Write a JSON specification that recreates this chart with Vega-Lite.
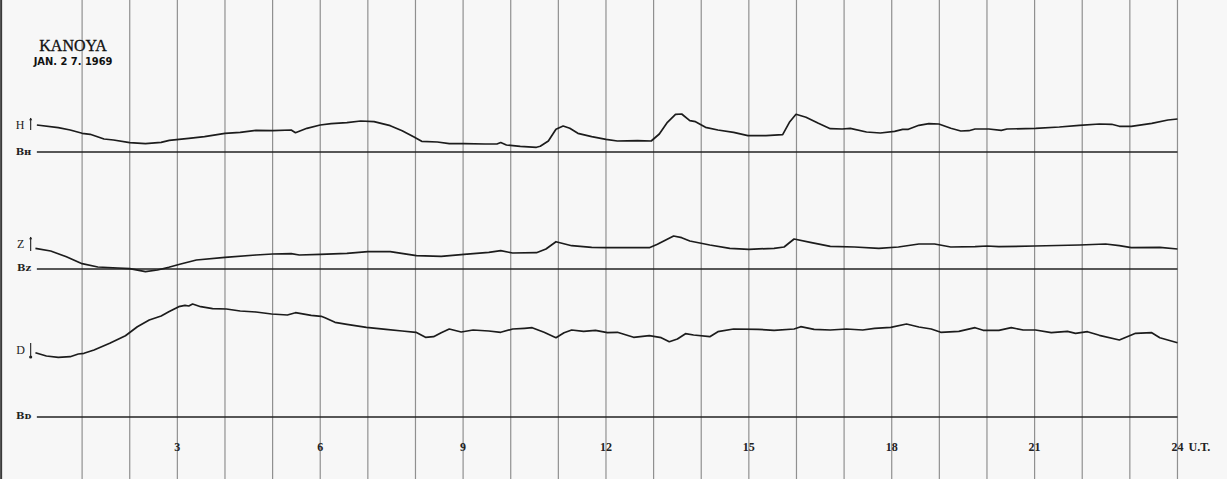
{
  "$schema": "https://vega.github.io/schema/vega-lite/v6.json",
  "width": 1227,
  "height": 479,
  "autosize": "none",
  "padding": 0,
  "background": "#f7f7f7",
  "config": {"view": {"stroke": null}},
  "datasets": {
    "hours": [
      {"hour": 1}, {"hour": 2}, {"hour": 3}, {"hour": 4}, {"hour": 5}, {"hour": 6},
      {"hour": 7}, {"hour": 8}, {"hour": 9}, {"hour": 10}, {"hour": 11}, {"hour": 12},
      {"hour": 13}, {"hour": 14}, {"hour": 15}, {"hour": 16}, {"hour": 17}, {"hour": 18},
      {"hour": 19}, {"hour": 20}, {"hour": 21}, {"hour": 22}, {"hour": 23}, {"hour": 24}
    ],
    "baselines": [
      {"name": "BH", "hour": 0.05, "hour2": 24, "pos": 327},
      {"name": "BZ", "hour": 0.05, "hour2": 24, "pos": 210},
      {"name": "BD", "hour": 0.05, "hour2": 24, "pos": 62}
    ],
    "traces": [
      {"trace": "H", "hour": 0.05, "pos": 354}, {"trace": "H", "hour": 0.5, "pos": 351.3},
      {"trace": "H", "hour": 0.75, "pos": 349}, {"trace": "H", "hour": 1.0, "pos": 345.7},
      {"trace": "H", "hour": 1.17, "pos": 344.7}, {"trace": "H", "hour": 1.46, "pos": 340},
      {"trace": "H", "hour": 1.66, "pos": 339}, {"trace": "H", "hour": 2.0, "pos": 336.3},
      {"trace": "H", "hour": 2.33, "pos": 335.3}, {"trace": "H", "hour": 2.66, "pos": 336.7},
      {"trace": "H", "hour": 2.83, "pos": 338.7}, {"trace": "H", "hour": 3.24, "pos": 340.7},
      {"trace": "H", "hour": 3.57, "pos": 342.3}, {"trace": "H", "hour": 4.0, "pos": 345.7},
      {"trace": "H", "hour": 4.32, "pos": 346.7}, {"trace": "H", "hour": 4.65, "pos": 348.7},
      {"trace": "H", "hour": 5.0, "pos": 348.3}, {"trace": "H", "hour": 5.39, "pos": 349},
      {"trace": "H", "hour": 5.48, "pos": 346.3}, {"trace": "H", "hour": 5.72, "pos": 350.7},
      {"trace": "H", "hour": 6.0, "pos": 354}, {"trace": "H", "hour": 6.23, "pos": 355.3},
      {"trace": "H", "hour": 6.56, "pos": 356.3}, {"trace": "H", "hour": 6.85, "pos": 358},
      {"trace": "H", "hour": 7.13, "pos": 357.3}, {"trace": "H", "hour": 7.47, "pos": 353.3},
      {"trace": "H", "hour": 7.72, "pos": 348.3}, {"trace": "H", "hour": 7.96, "pos": 342.3},
      {"trace": "H", "hour": 8.13, "pos": 337.7}, {"trace": "H", "hour": 8.46, "pos": 337},
      {"trace": "H", "hour": 8.71, "pos": 335.3}, {"trace": "H", "hour": 9.02, "pos": 335.3},
      {"trace": "H", "hour": 9.46, "pos": 335}, {"trace": "H", "hour": 9.71, "pos": 335},
      {"trace": "H", "hour": 9.79, "pos": 336.5}, {"trace": "H", "hour": 9.91, "pos": 334},
      {"trace": "H", "hour": 10.2, "pos": 332.7}, {"trace": "H", "hour": 10.54, "pos": 331.7},
      {"trace": "H", "hour": 10.62, "pos": 332.7}, {"trace": "H", "hour": 10.79, "pos": 338},
      {"trace": "H", "hour": 10.95, "pos": 349.7}, {"trace": "H", "hour": 11.1, "pos": 353},
      {"trace": "H", "hour": 11.24, "pos": 350.7}, {"trace": "H", "hour": 11.41, "pos": 345.7},
      {"trace": "H", "hour": 11.7, "pos": 342.3}, {"trace": "H", "hour": 12.0, "pos": 339.7},
      {"trace": "H", "hour": 12.24, "pos": 338}, {"trace": "H", "hour": 12.66, "pos": 338.3},
      {"trace": "H", "hour": 12.95, "pos": 338}, {"trace": "H", "hour": 13.12, "pos": 345},
      {"trace": "H", "hour": 13.29, "pos": 356.7}, {"trace": "H", "hour": 13.46, "pos": 364.7},
      {"trace": "H", "hour": 13.59, "pos": 365}, {"trace": "H", "hour": 13.76, "pos": 358.3},
      {"trace": "H", "hour": 13.88, "pos": 357.3}, {"trace": "H", "hour": 14.09, "pos": 351.7},
      {"trace": "H", "hour": 14.35, "pos": 349}, {"trace": "H", "hour": 14.68, "pos": 346.7},
      {"trace": "H", "hour": 14.98, "pos": 343.3}, {"trace": "H", "hour": 15.36, "pos": 343.3},
      {"trace": "H", "hour": 15.71, "pos": 344.3}, {"trace": "H", "hour": 15.86, "pos": 357.3},
      {"trace": "H", "hour": 15.99, "pos": 364.7}, {"trace": "H", "hour": 16.2, "pos": 361.7},
      {"trace": "H", "hour": 16.46, "pos": 355.7}, {"trace": "H", "hour": 16.71, "pos": 350.3},
      {"trace": "H", "hour": 16.96, "pos": 350}, {"trace": "H", "hour": 17.13, "pos": 350.7},
      {"trace": "H", "hour": 17.47, "pos": 347}, {"trace": "H", "hour": 17.76, "pos": 346},
      {"trace": "H", "hour": 18.06, "pos": 347.7}, {"trace": "H", "hour": 18.23, "pos": 349.7},
      {"trace": "H", "hour": 18.35, "pos": 349.7}, {"trace": "H", "hour": 18.57, "pos": 353.7},
      {"trace": "H", "hour": 18.78, "pos": 355.3}, {"trace": "H", "hour": 18.99, "pos": 355},
      {"trace": "H", "hour": 19.24, "pos": 350.7}, {"trace": "H", "hour": 19.45, "pos": 348},
      {"trace": "H", "hour": 19.62, "pos": 348.3}, {"trace": "H", "hour": 19.75, "pos": 350},
      {"trace": "H", "hour": 20.04, "pos": 350}, {"trace": "H", "hour": 20.3, "pos": 348.7},
      {"trace": "H", "hour": 20.42, "pos": 350}, {"trace": "H", "hour": 21.02, "pos": 350.7},
      {"trace": "H", "hour": 21.52, "pos": 352}, {"trace": "H", "hour": 21.94, "pos": 353.7},
      {"trace": "H", "hour": 22.36, "pos": 355}, {"trace": "H", "hour": 22.62, "pos": 354.7},
      {"trace": "H", "hour": 22.78, "pos": 352.7}, {"trace": "H", "hour": 23.03, "pos": 352.7},
      {"trace": "H", "hour": 23.46, "pos": 355.7}, {"trace": "H", "hour": 23.8, "pos": 359},
      {"trace": "H", "hour": 24.0, "pos": 360},

      {"trace": "Z", "hour": 0.02, "pos": 230.7}, {"trace": "Z", "hour": 0.34, "pos": 228},
      {"trace": "Z", "hour": 0.67, "pos": 222.3}, {"trace": "Z", "hour": 1.0, "pos": 215.3},
      {"trace": "Z", "hour": 1.33, "pos": 212}, {"trace": "Z", "hour": 1.75, "pos": 211},
      {"trace": "Z", "hour": 2.0, "pos": 210.3}, {"trace": "Z", "hour": 2.33, "pos": 207.3},
      {"trace": "Z", "hour": 2.58, "pos": 209}, {"trace": "Z", "hour": 2.82, "pos": 211.7},
      {"trace": "Z", "hour": 3.07, "pos": 215}, {"trace": "Z", "hour": 3.4, "pos": 219},
      {"trace": "Z", "hour": 4.0, "pos": 221.7}, {"trace": "Z", "hour": 4.65, "pos": 224},
      {"trace": "Z", "hour": 5.0, "pos": 225}, {"trace": "Z", "hour": 5.39, "pos": 225.3},
      {"trace": "Z", "hour": 5.56, "pos": 224}, {"trace": "Z", "hour": 6.0, "pos": 224.7},
      {"trace": "Z", "hour": 6.56, "pos": 225.7}, {"trace": "Z", "hour": 7.0, "pos": 227.3},
      {"trace": "Z", "hour": 7.47, "pos": 227.3}, {"trace": "Z", "hour": 8.02, "pos": 223.3},
      {"trace": "Z", "hour": 8.54, "pos": 222.7}, {"trace": "Z", "hour": 9.02, "pos": 224.7},
      {"trace": "Z", "hour": 9.54, "pos": 226.7}, {"trace": "Z", "hour": 9.79, "pos": 228.3},
      {"trace": "Z", "hour": 10.04, "pos": 226}, {"trace": "Z", "hour": 10.54, "pos": 226.3},
      {"trace": "Z", "hour": 10.74, "pos": 230}, {"trace": "Z", "hour": 10.95, "pos": 237.3},
      {"trace": "Z", "hour": 11.28, "pos": 233.3}, {"trace": "Z", "hour": 11.7, "pos": 231.7},
      {"trace": "Z", "hour": 12.0, "pos": 231.4}, {"trace": "Z", "hour": 12.32, "pos": 231.3},
      {"trace": "Z", "hour": 12.91, "pos": 231.3}, {"trace": "Z", "hour": 13.08, "pos": 234.7},
      {"trace": "Z", "hour": 13.42, "pos": 243}, {"trace": "Z", "hour": 13.59, "pos": 241.3},
      {"trace": "Z", "hour": 13.76, "pos": 238}, {"trace": "Z", "hour": 14.18, "pos": 234},
      {"trace": "Z", "hour": 14.6, "pos": 230.7}, {"trace": "Z", "hour": 15.0, "pos": 229.7},
      {"trace": "Z", "hour": 15.53, "pos": 230.7}, {"trace": "Z", "hour": 15.74, "pos": 232},
      {"trace": "Z", "hour": 15.95, "pos": 240}, {"trace": "Z", "hour": 16.29, "pos": 236.7},
      {"trace": "Z", "hour": 16.71, "pos": 232.7}, {"trace": "Z", "hour": 17.22, "pos": 232},
      {"trace": "Z", "hour": 17.73, "pos": 230.7}, {"trace": "Z", "hour": 18.14, "pos": 232},
      {"trace": "Z", "hour": 18.57, "pos": 235}, {"trace": "Z", "hour": 18.9, "pos": 235},
      {"trace": "Z", "hour": 19.24, "pos": 232}, {"trace": "Z", "hour": 19.75, "pos": 232.3},
      {"trace": "Z", "hour": 20.0, "pos": 233}, {"trace": "Z", "hour": 20.25, "pos": 232.3},
      {"trace": "Z", "hour": 21.0, "pos": 233}, {"trace": "Z", "hour": 21.94, "pos": 234},
      {"trace": "Z", "hour": 22.49, "pos": 235}, {"trace": "Z", "hour": 22.78, "pos": 233.3},
      {"trace": "Z", "hour": 23.03, "pos": 231.3}, {"trace": "Z", "hour": 23.63, "pos": 231.7},
      {"trace": "Z", "hour": 24.0, "pos": 230},

      {"trace": "D", "hour": 0.02, "pos": 126.3}, {"trace": "D", "hour": 0.25, "pos": 123},
      {"trace": "D", "hour": 0.5, "pos": 121.7}, {"trace": "D", "hour": 0.75, "pos": 122.3},
      {"trace": "D", "hour": 0.92, "pos": 125}, {"trace": "D", "hour": 1.04, "pos": 125.7},
      {"trace": "D", "hour": 1.25, "pos": 129}, {"trace": "D", "hour": 1.58, "pos": 135.7},
      {"trace": "D", "hour": 1.91, "pos": 143.3}, {"trace": "D", "hour": 2.16, "pos": 152.3},
      {"trace": "D", "hour": 2.41, "pos": 159}, {"trace": "D", "hour": 2.66, "pos": 163},
      {"trace": "D", "hour": 2.82, "pos": 167.3}, {"trace": "D", "hour": 3.03, "pos": 172.3},
      {"trace": "D", "hour": 3.16, "pos": 173.7}, {"trace": "D", "hour": 3.24, "pos": 173},
      {"trace": "D", "hour": 3.32, "pos": 175}, {"trace": "D", "hour": 3.49, "pos": 172.3},
      {"trace": "D", "hour": 3.74, "pos": 170.3}, {"trace": "D", "hour": 4.03, "pos": 170},
      {"trace": "D", "hour": 4.32, "pos": 168}, {"trace": "D", "hour": 4.65, "pos": 167},
      {"trace": "D", "hour": 4.98, "pos": 165}, {"trace": "D", "hour": 5.31, "pos": 164},
      {"trace": "D", "hour": 5.48, "pos": 166.3}, {"trace": "D", "hour": 5.81, "pos": 163.7},
      {"trace": "D", "hour": 6.02, "pos": 162.7}, {"trace": "D", "hour": 6.1, "pos": 161.3},
      {"trace": "D", "hour": 6.31, "pos": 156.7}, {"trace": "D", "hour": 6.56, "pos": 154.7},
      {"trace": "D", "hour": 6.97, "pos": 151.7}, {"trace": "D", "hour": 7.38, "pos": 149.7},
      {"trace": "D", "hour": 7.72, "pos": 148}, {"trace": "D", "hour": 8.01, "pos": 146.7},
      {"trace": "D", "hour": 8.21, "pos": 141.7}, {"trace": "D", "hour": 8.38, "pos": 142.3},
      {"trace": "D", "hour": 8.54, "pos": 146.3}, {"trace": "D", "hour": 8.71, "pos": 150},
      {"trace": "D", "hour": 8.96, "pos": 147}, {"trace": "D", "hour": 9.21, "pos": 149},
      {"trace": "D", "hour": 9.54, "pos": 148}, {"trace": "D", "hour": 9.79, "pos": 146.7},
      {"trace": "D", "hour": 10.04, "pos": 150}, {"trace": "D", "hour": 10.29, "pos": 150.7},
      {"trace": "D", "hour": 10.45, "pos": 151.3}, {"trace": "D", "hour": 10.7, "pos": 146.7},
      {"trace": "D", "hour": 10.95, "pos": 141.3}, {"trace": "D", "hour": 11.12, "pos": 146.3},
      {"trace": "D", "hour": 11.28, "pos": 149}, {"trace": "D", "hour": 11.53, "pos": 147.7},
      {"trace": "D", "hour": 11.78, "pos": 148.7}, {"trace": "D", "hour": 12.03, "pos": 146.3},
      {"trace": "D", "hour": 12.24, "pos": 146.7}, {"trace": "D", "hour": 12.58, "pos": 141.7},
      {"trace": "D", "hour": 12.91, "pos": 143.3}, {"trace": "D", "hour": 13.16, "pos": 141.3},
      {"trace": "D", "hour": 13.33, "pos": 137.3}, {"trace": "D", "hour": 13.5, "pos": 140},
      {"trace": "D", "hour": 13.67, "pos": 145.3}, {"trace": "D", "hour": 13.84, "pos": 144},
      {"trace": "D", "hour": 14.18, "pos": 142.3}, {"trace": "D", "hour": 14.35, "pos": 147.3},
      {"trace": "D", "hour": 14.68, "pos": 150}, {"trace": "D", "hour": 15.19, "pos": 149.7},
      {"trace": "D", "hour": 15.53, "pos": 148.7}, {"trace": "D", "hour": 15.95, "pos": 150},
      {"trace": "D", "hour": 16.09, "pos": 152.3}, {"trace": "D", "hour": 16.37, "pos": 149.7},
      {"trace": "D", "hour": 16.71, "pos": 149}, {"trace": "D", "hour": 17.05, "pos": 150},
      {"trace": "D", "hour": 17.39, "pos": 149}, {"trace": "D", "hour": 17.64, "pos": 150.7},
      {"trace": "D", "hour": 17.98, "pos": 151.7}, {"trace": "D", "hour": 18.31, "pos": 155},
      {"trace": "D", "hour": 18.57, "pos": 152}, {"trace": "D", "hour": 18.83, "pos": 150},
      {"trace": "D", "hour": 19.03, "pos": 146.7}, {"trace": "D", "hour": 19.41, "pos": 147.7},
      {"trace": "D", "hour": 19.75, "pos": 151.3}, {"trace": "D", "hour": 19.92, "pos": 148.7},
      {"trace": "D", "hour": 20.25, "pos": 148.7}, {"trace": "D", "hour": 20.51, "pos": 151.3},
      {"trace": "D", "hour": 20.76, "pos": 149}, {"trace": "D", "hour": 21.02, "pos": 149},
      {"trace": "D", "hour": 21.35, "pos": 146.3}, {"trace": "D", "hour": 21.69, "pos": 147.7},
      {"trace": "D", "hour": 21.86, "pos": 145.7}, {"trace": "D", "hour": 22.11, "pos": 147.3},
      {"trace": "D", "hour": 22.36, "pos": 143.7}, {"trace": "D", "hour": 22.78, "pos": 139},
      {"trace": "D", "hour": 23.12, "pos": 145.7}, {"trace": "D", "hour": 23.46, "pos": 146.3},
      {"trace": "D", "hour": 23.63, "pos": 141.3}, {"trace": "D", "hour": 24.0, "pos": 136.3}
    ],
    "traceLabels": [
      {"text": "H", "hour": -0.3, "pos": 354},
      {"text": "Z", "hour": -0.29, "pos": 235},
      {"text": "D", "hour": -0.29, "pos": 129}
    ],
    "baseLabels": [
      {"text": "Bʜ", "hour": -0.23, "pos": 327},
      {"text": "Bz", "hour": -0.22, "pos": 211},
      {"text": "Bᴅ", "hour": -0.23, "pos": 63}
    ],
    "scaleBars": [
      {"trace": "H", "hour": -0.08, "pos": 349, "pos2": 361},
      {"trace": "Z", "hour": -0.08, "pos": 228, "pos2": 242},
      {"trace": "D", "hour": -0.08, "pos": 122, "pos2": 136}
    ],
    "arrowHeads": [
      {"trace": "H", "hour": -0.08, "pos": 360, "dir": "triangle-up"},
      {"trace": "Z", "hour": -0.08, "pos": 241, "dir": "triangle-up"},
      {"trace": "D", "hour": -0.08, "pos": 122, "dir": "circle"}
    ],
    "hourLabels": [
      {"text": "3", "hour": 3, "pos": 32},
      {"text": "6", "hour": 6, "pos": 32},
      {"text": "9", "hour": 9, "pos": 32},
      {"text": "12", "hour": 12, "pos": 32},
      {"text": "15", "hour": 15, "pos": 32},
      {"text": "18", "hour": 18, "pos": 32},
      {"text": "21", "hour": 21, "pos": 32},
      {"text": "24", "hour": 24, "pos": 32},
      {"text": "U.T.", "hour": 24.46, "pos": 32}
    ],
    "titles": [
      {"text": "KANOYA", "hour": 0.81, "pos": 433}
    ],
    "dates": [
      {"text": "JAN. 2 7. 1969", "hour": 0.81, "pos": 417}
    ],
    "edges": [
      {"hour": -0.7, "pos": 0, "pos2": 479}
    ]
  },
  "layer": [
    {
      "data": {"name": "hours"},
      "mark": {"type": "rule", "color": "#909090", "strokeWidth": 1.2},
      "encoding": {
        "x": {"field": "hour", "type": "quantitative", "scale": {"domain": [-0.724, 25.04], "nice": false, "zero": false}, "axis": null}
      }
    },
    {
      "data": {"name": "edges"},
      "mark": {"type": "rule", "color": "#3a3a3a", "strokeWidth": 2},
      "encoding": {
        "x": {"field": "hour", "type": "quantitative", "axis": null},
        "y": {"field": "pos", "type": "quantitative", "scale": {"domain": [0, 479], "nice": false, "zero": false}, "axis": null},
        "y2": {"field": "pos2"}
      }
    },
    {
      "data": {"name": "baselines"},
      "mark": {"type": "rule", "color": "#222222", "strokeWidth": 1.6},
      "encoding": {
        "x": {"field": "hour", "type": "quantitative", "axis": null},
        "x2": {"field": "hour2"},
        "y": {"field": "pos", "type": "quantitative", "axis": null}
      }
    },
    {
      "data": {"name": "traces"},
      "mark": {"type": "line", "color": "#1c1c1c", "strokeWidth": 1.7, "strokeJoin": "round"},
      "encoding": {
        "x": {"field": "hour", "type": "quantitative", "axis": null},
        "y": {"field": "pos", "type": "quantitative", "axis": null},
        "detail": {"field": "trace", "type": "nominal"},
        "order": {"field": "hour", "type": "quantitative"}
      }
    },
    {
      "data": {"name": "scaleBars"},
      "mark": {"type": "rule", "color": "#222222", "strokeWidth": 1.1},
      "encoding": {
        "x": {"field": "hour", "type": "quantitative", "axis": null},
        "y": {"field": "pos", "type": "quantitative", "axis": null},
        "y2": {"field": "pos2"}
      }
    },
    {
      "data": {"name": "arrowHeads"},
      "mark": {"type": "point", "filled": true, "color": "#222222", "size": 10, "opacity": 1},
      "encoding": {
        "x": {"field": "hour", "type": "quantitative", "axis": null},
        "y": {"field": "pos", "type": "quantitative", "axis": null},
        "shape": {"field": "dir", "type": "nominal", "scale": null, "legend": null}
      }
    },
    {
      "data": {"name": "traceLabels"},
      "mark": {"type": "text", "font": "Liberation Serif", "fontSize": 12, "color": "#222222", "align": "center", "baseline": "middle"},
      "encoding": {
        "x": {"field": "hour", "type": "quantitative", "axis": null},
        "y": {"field": "pos", "type": "quantitative", "axis": null},
        "text": {"field": "text"}
      }
    },
    {
      "data": {"name": "baseLabels"},
      "mark": {"type": "text", "font": "DejaVu Serif", "fontSize": 10, "fontWeight": "bold", "color": "#222222", "align": "center", "baseline": "middle"},
      "encoding": {
        "x": {"field": "hour", "type": "quantitative", "axis": null},
        "y": {"field": "pos", "type": "quantitative", "axis": null},
        "text": {"field": "text"}
      }
    },
    {
      "data": {"name": "hourLabels"},
      "mark": {"type": "text", "font": "Liberation Serif", "fontSize": 12, "fontWeight": "bold", "color": "#222222", "align": "center", "baseline": "middle"},
      "encoding": {
        "x": {"field": "hour", "type": "quantitative", "axis": null},
        "y": {"field": "pos", "type": "quantitative", "axis": null},
        "text": {"field": "text"}
      }
    },
    {
      "data": {"name": "titles"},
      "mark": {"type": "text", "font": "Liberation Serif", "fontSize": 16, "color": "#111111", "stroke": "#111111", "strokeWidth": 0.3, "align": "center", "baseline": "middle"},
      "encoding": {
        "x": {"field": "hour", "type": "quantitative", "axis": null},
        "y": {"field": "pos", "type": "quantitative", "axis": null},
        "text": {"field": "text"}
      }
    },
    {
      "data": {"name": "dates"},
      "mark": {"type": "text", "font": "DejaVu Sans Condensed", "fontSize": 11, "fontWeight": "bold", "color": "#111111", "align": "center", "baseline": "middle"},
      "encoding": {
        "x": {"field": "hour", "type": "quantitative", "axis": null},
        "y": {"field": "pos", "type": "quantitative", "axis": null},
        "text": {"field": "text"}
      }
    }
  ]
}
